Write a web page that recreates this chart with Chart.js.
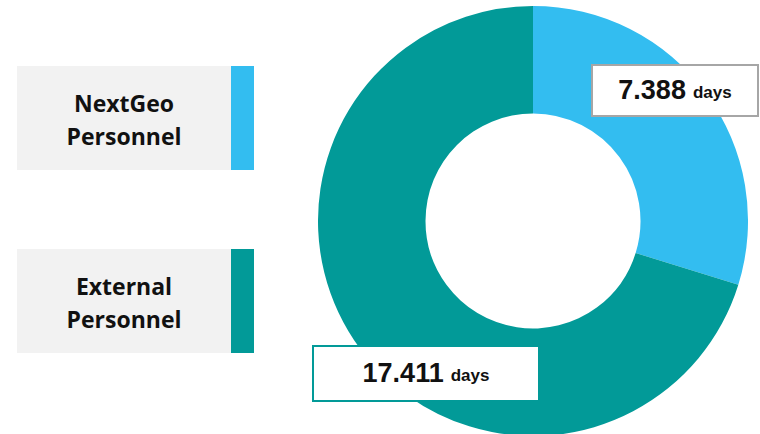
<!DOCTYPE html>
<html>
<head>
<meta charset="utf-8">
<script src="https://cdn.jsdelivr.net/npm/chart.js@4/dist/chart.umd.min.js"></script>
<style>
  html, body { margin: 0; padding: 0; background: #fff; overflow: hidden; }
  body { width: 760px; height: 434px; position: relative; font-family: "Liberation Sans", Arial, sans-serif; }
  #chartWrap { position: absolute; left: 318px; top: 6px; width: 430px; height: 430px; }
  .legend { position: absolute; left: 17px; width: 237px; background: #f2f2f2; display: flex; }
  .legend .txt { flex: 1; display: flex; align-items: center; justify-content: center; text-align: center;
    font-family: "Open Sans", "Noto Sans", sans-serif; font-weight: 700; font-size: 23px; line-height: 33px;
    color: #111; padding-top: 3px; }
  .legend .strip { width: 23px; }
  .valbox { position: absolute; background: #fff; box-sizing: border-box; border: 2px solid #a6a6a6;
    display: flex; align-items: center; justify-content: center; font-weight: 700; color: #111; }
  .valbox .num { font-size: 27px; }
  .valbox .unit { font-size: 17px; margin-left: 7px; margin-top: 5px; }
</style>
</head>
<body>
<div id="chartWrap"><canvas id="donut" width="430" height="430"></canvas></div>
<div id="overlay"></div>
<script>
const categories = ['NextGeo\nPersonnel', 'External\nPersonnel'];
const values = [7.388, 17.411];
const unit = 'days';
const colors = ['#33bdf0', '#029a98'];

// legend boxes (left) and value boxes, in category order
const legendTops = [66, 249];
const valueBoxes = [
  { left: 591, top: 64, width: 168, height: 53, border: '#a6a6a6' },
  { left: 312, top: 345, width: 228, height: 57, border: '#029a98' }
];

const overlay = document.getElementById('overlay');
categories.forEach((cat, i) => {
  const lg = document.createElement('div');
  lg.className = 'legend';
  lg.style.top = legendTops[i] + 'px';
  lg.style.height = '104px';
  const t = document.createElement('div');
  t.className = 'txt';
  t.innerHTML = cat.split('\n').join('<br>');
  const s = document.createElement('div');
  s.className = 'strip';
  s.style.background = colors[i];
  lg.appendChild(t);
  lg.appendChild(s);
  overlay.appendChild(lg);
});

new Chart(document.getElementById('donut').getContext('2d'), {
  type: 'doughnut',
  data: {
    labels: categories.map(c => c.replace('\n', ' ')),
    datasets: [{
      data: values,
      backgroundColor: colors,
      borderWidth: 0,
      hoverOffset: 0
    }]
  },
  options: {
    responsive: false,
    animation: false,
    cutout: '50%',
    layout: { padding: 0 },
    plugins: {
      legend: { display: false },
      tooltip: { enabled: false }
    }
  }
});

values.forEach((v, i) => {
  const b = valueBoxes[i];
  const d = document.createElement('div');
  d.className = 'valbox';
  d.style.left = b.left + 'px';
  d.style.top = b.top + 'px';
  d.style.width = b.width + 'px';
  d.style.height = b.height + 'px';
  d.style.borderColor = b.border;
  d.innerHTML = '<span class="num">' + v.toFixed(3) + '</span><span class="unit">' + unit + '</span>';
  overlay.appendChild(d);
});
</script>
</body>
</html>
